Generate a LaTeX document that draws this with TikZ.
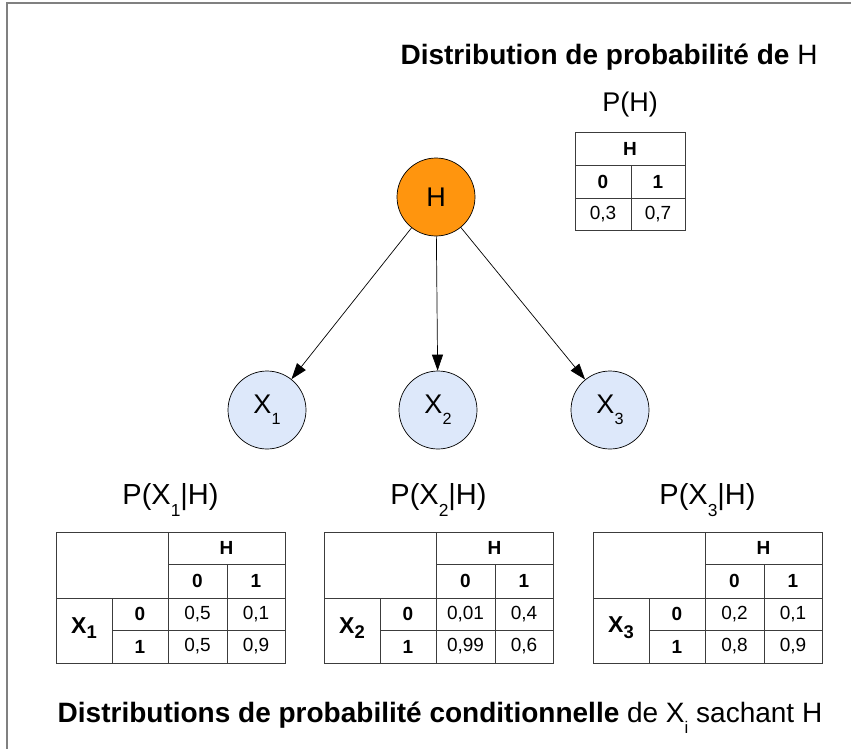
\documentclass[tikz,border=0pt]{standalone}
\usepackage{fontspec}
\setmainfont{Liberation Sans}
\usetikzlibrary{arrows.meta}
\definecolor{hOrange}{RGB}{255,149,14}
\definecolor{xBlue}{RGB}{221,232,250}
\definecolor{lineGray}{RGB}{60,60,60}
\newcommand{\lo}[1]{\raisebox{-.4em}{\scalebox{.6}{#1}}}
\begin{document}
\begin{tikzpicture}[x=1pt,y=-1pt,font=\fontsize{27}{32}\selectfont]
        \useasboundingbox (0,0) rectangle (851,749);
        \draw[gray,line width=1.2pt] (7,749) -- (7,3) -- (851,3);
        \begin{scope}[every node/.style={circle,draw,line width=0.7pt,minimum size=78pt,inner sep=0pt}]
        \node[fill=hOrange] (h) at (436,197) {H};
        \node[fill=xBlue] (x1) at (267,410) {X\lo{1}};
        \node[fill=xBlue] (x2) at (438,410) {X\lo{2}};
        \node[fill=xBlue] (x3) at (610,410) {X\lo{3}};
        \end{scope}
        \begin{scope}[every edge/.style={draw=black,line width=0.7pt,-{Triangle[length=16pt,width=11pt]}}]
        \path (h) edge (x1);
        \path (h) edge (x2);
        \path (h) edge (x3);
        \end{scope}
        % distribution de H
        \node[anchor=east,font=\fontsize{28}{32}\selectfont] (titleh) at (821,57) {\textbf{Distribution de probabilité de} H};
        \node (ph) at (630,105) {P(H)};
        \draw[lineGray,line width=0.8pt] (575,132) rectangle (685,230);
        \draw[lineGray,line width=0.8pt] (575,165) -- (685,165) (575,198) -- (685,198) (631,165) -- (631,230);
        \begin{scope}[font=\fontsize{19}{22}\selectfont]
        \node (ph-h) at (630,148.5) {\textbf{H}};
        \node (ph-0) at (603,181.5) {\textbf{0}};
        \node (ph-1) at (658,181.5) {\textbf{1}};
        \node (ph-a) at (603,214) {0,3};
        \node (ph-b) at (658,214) {0,7};
        \end{scope}
        % distributions conditionnelles
        \foreach \tx/\i/\a/\b/\c/\d in {56/1/0{,}5/0{,}1/0{,}5/0{,}9,324/2/0{,}01/0{,}4/0{,}99/0{,}6,593/3/0{,}2/0{,}1/0{,}8/0{,}9}{
        \begin{scope}[shift={(\tx,0)}]
        \node[font=\fontsize{29}{34}\selectfont] (p\i) at (114.5,500) {P(X\lo{\i}|H)};
        \draw[lineGray,line width=0.8pt] (0,532) rectangle (229,663);
        \draw[lineGray,line width=0.8pt] (112,532) -- (112,663) (112,564) -- (229,564) (0,598) -- (229,598)
            (56,630) -- (229,630) (56,598) -- (56,663) (171,564) -- (171,663);
        \begin{scope}[font=\fontsize{19}{22}\selectfont]
        \node (t\i-h) at (170.5,548) {\textbf{H}};
        \node (t\i-h0) at (141.5,581) {\textbf{0}};
        \node (t\i-h1) at (200,581) {\textbf{1}};
        \node[font=\fontsize{23}{27}\selectfont] (t\i-x) at (28,628) {\textbf{X\raisebox{-.25em}{\scalebox{.8}{\i}}}};
        \node (t\i-x0) at (84,614) {\textbf{0}};
        \node (t\i-x1) at (84,646.5) {\textbf{1}};
        \node (t\i-a) at (141.5,614) {\a};
        \node (t\i-b) at (200,614) {\b};
        \node (t\i-c) at (141.5,646.5) {\c};
        \node (t\i-d) at (200,646.5) {\d};
        \end{scope}
        \end{scope}
        }
        \node[font=\fontsize{28}{32}\selectfont] (caption) at (440,718) {\textbf{Distributions de probabilité conditionnelle} de X\lo{i} sachant H};
\end{tikzpicture}
\end{document}
